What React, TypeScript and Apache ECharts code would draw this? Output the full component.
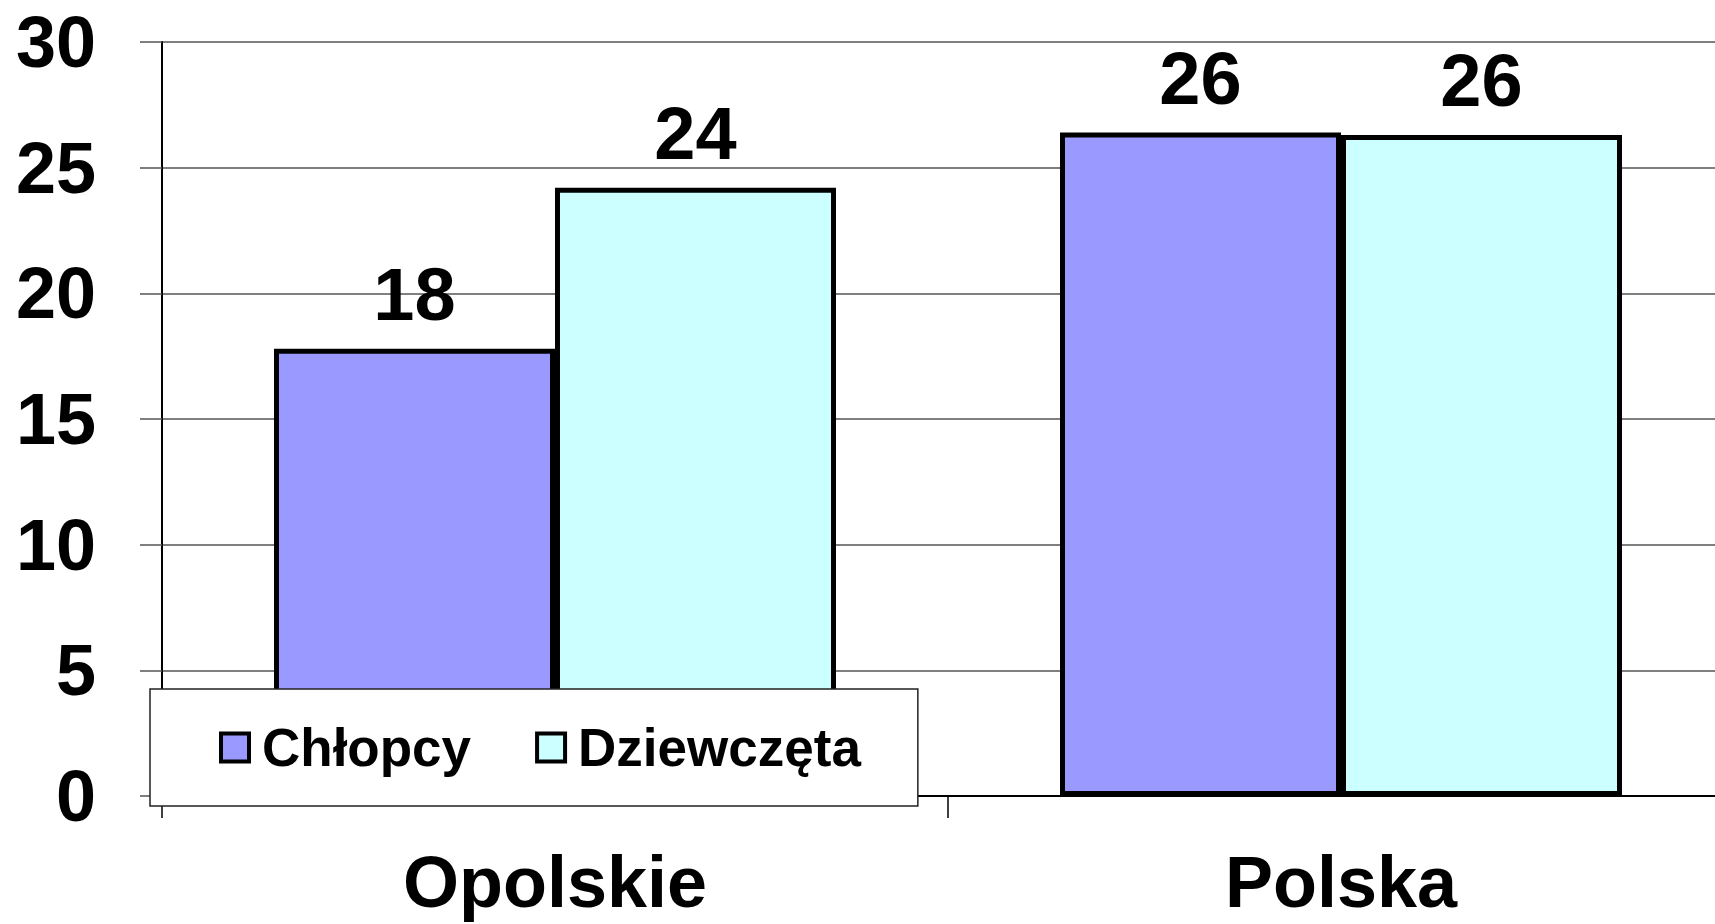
import React, { useEffect, useRef } from "react";
import * as echarts from "echarts";

const categories = ["Opolskie", "Polska"];
const seriesNames = ["Chłopcy", "Dziewczęta"];
const chlopcy = [17.8, 26.4];
const dziewczeta = [24.2, 26.3];
const seriesColors = ["#9999FF", "#CCFFFF"];
const yTicks = { min: 0, max: 30, interval: 5 };

const FONT = "'Liberation Sans', Arial, sans-serif";

export default function App() {
  const ref = useRef<HTMLDivElement>(null);
  useEffect(() => {
    document.body.style.margin = "0";
    document.body.style.overflow = "hidden";
    const chart = echarts.init(ref.current!, null, { renderer: "svg" });
    const labelStyle = {
      show: true,
      position: "top" as const,
      distance: 17,
      fontFamily: FONT,
      fontWeight: "bold" as const,
      fontSize: 74,
      color: "#000",
      formatter: (p: any) => String(Math.round(p.value)),
    };
    const mk = (name: string, data: number[], color: string) => ({
      name,
      type: "bar" as const,
      data,
      barGap: "0%",
      barCategoryGap: "28.5%",
      itemStyle: { color, borderColor: "#000", borderWidth: 5 },
      label: labelStyle,
    });
    chart.setOption({
      animation: false,
      backgroundColor: "#fff",
      grid: { left: 162, top: 42, bottom: 128, right: 0, containLabel: false },
      legend: {
        left: 150,
        top: 689,
        orient: "horizontal",
        backgroundColor: "#fff",
        borderColor: "#222",
        borderWidth: 1.5,
        padding: [32, 57, 32, 69],
        itemGap: 64,
        itemWidth: 28,
        itemHeight: 28,
        icon: "rect",
        itemStyle: { borderColor: "#000", borderWidth: 4 },
        data: seriesNames,
        textStyle: {
          fontFamily: FONT,
          fontWeight: "bold",
          fontSize: 53,
          color: "#000",
          padding: [0, 0, 0, 8],
        },
      },
      xAxis: {
        type: "category",
        data: categories,
        axisLine: { lineStyle: { color: "#000", width: 2 } },
        axisTick: { show: true, length: 22, lineStyle: { color: "#000", width: 1.5 } },
        axisLabel: {
          margin: 56,
          lineHeight: 60,
          fontFamily: FONT,
          fontWeight: "bold",
          fontSize: 72,
          color: "#000",
        },
      },
      yAxis: {
        type: "value",
        min: yTicks.min,
        max: yTicks.max,
        interval: yTicks.interval,
        axisLine: { show: true, lineStyle: { color: "#000", width: 2 } },
        axisTick: { show: true, length: 22, lineStyle: { color: "#555", width: 1.5 } },
        splitLine: { show: true, lineStyle: { color: "#555", width: 1.5 } },
        axisLabel: {
          margin: 66,
          fontFamily: FONT,
          fontWeight: "bold",
          fontSize: 72,
          color: "#000",
        },
      },
      series: [
        mk(seriesNames[0], chlopcy, seriesColors[0]),
        mk(seriesNames[1], dziewczeta, seriesColors[1]),
      ],
    });
    return () => chart.dispose();
  }, []);
  return (
    <div style={{ width: 1715, height: 924, overflow: "hidden" }}>
      <div ref={ref} style={{ width: 1734, height: 924 }} />
    </div>
  );
}
